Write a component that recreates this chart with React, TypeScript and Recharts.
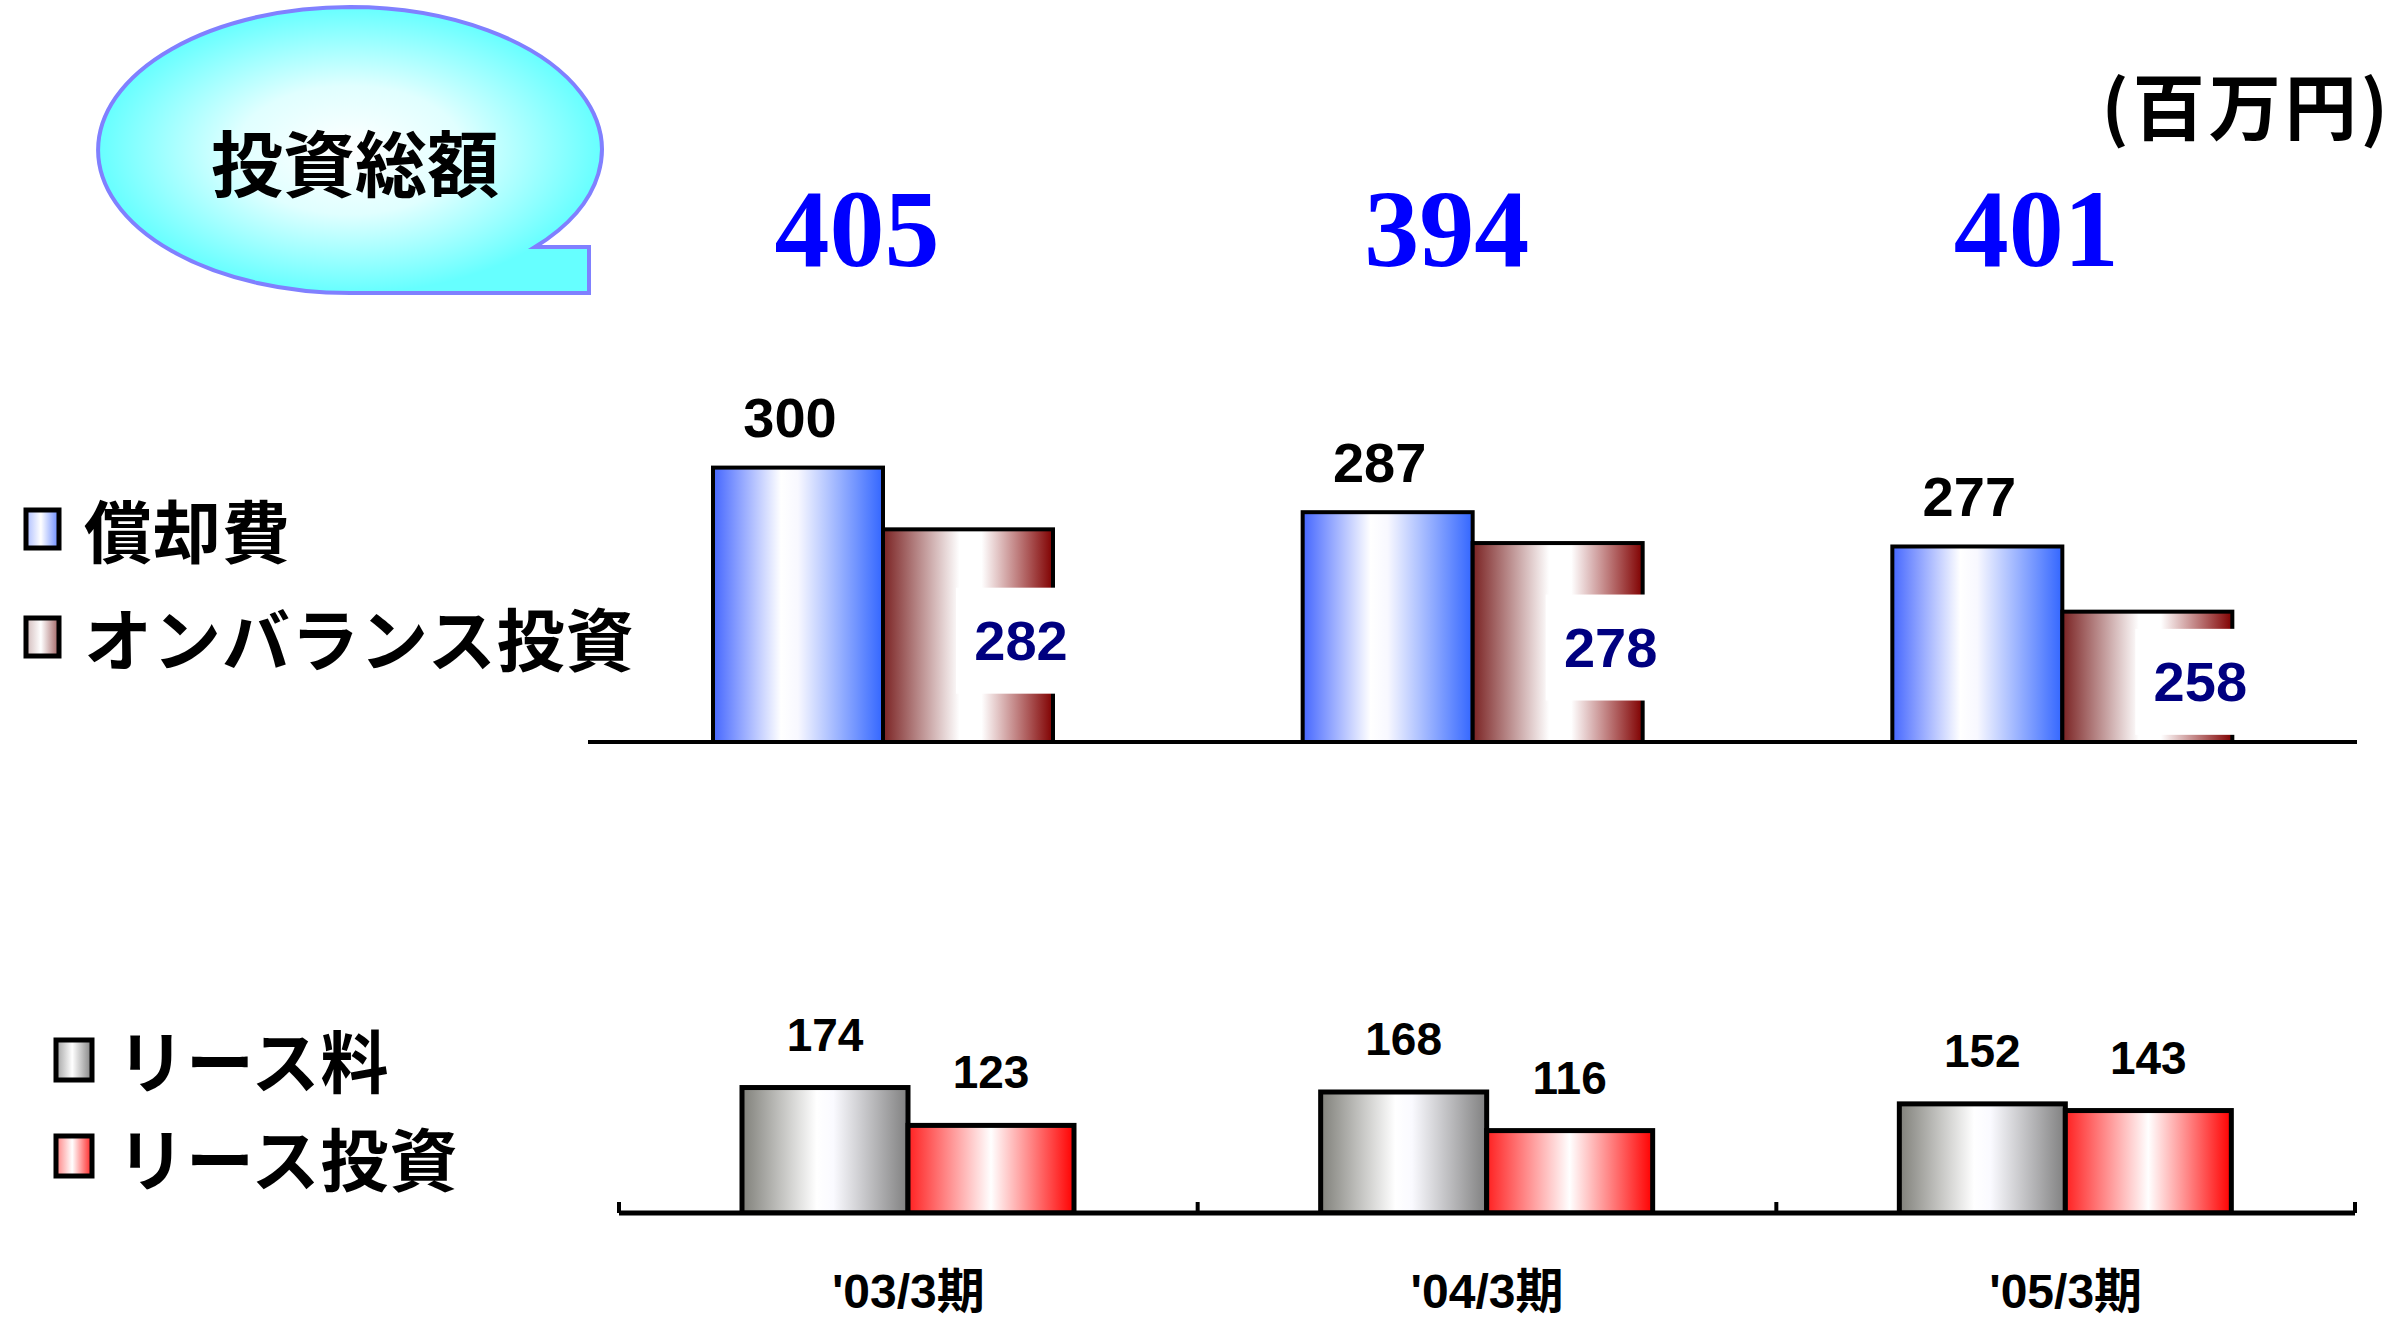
import React from 'react';
import { BarChart, Bar, XAxis, YAxis, LabelList, ReferenceLine } from 'recharts';

// ---- data ----
const PERIODS = ["'03/3期", "'04/3期", "'05/3期"];
const DEPRECIATION = [300, 287, 277]; // 償却費
const ON_BALANCE = [282, 278, 258]; // オンバランス投資
const TOTALS = [405, 394, 401]; // 投資総額
const LEASE_FEE = [174, 168, 152]; // リース料
const LEASE_INVEST = [123, 116, 143]; // リース投資

const LEGEND_TOP = ['償却費', 'オンバランス投資'];
const LEGEND_BOTTOM = ['リース料', 'リース投資'];
const TITLE = '投資総額';
const UNIT = '(百万円)';

const topData = PERIODS.map((p, i) => ({ period: p, dep: DEPRECIATION[i], onb: ON_BALANCE[i], total: TOTALS[i] }));
const bottomData = PERIODS.map((p, i) => ({ period: p, fee: LEASE_FEE[i], inv: LEASE_INVEST[i] }));

const NUM_FONT = "'Liberation Sans', Arial, sans-serif";
const CJK_FONT = "'Noto Sans CJK JP', 'Noto Sans CJK SC', sans-serif";

const makeShape = (grad: string, sw: number) => (props: any) => {
  const { x, y, width, height } = props;
  if (!height || height <= 0) return <g />;
  return (
    <rect x={x} y={y} width={width} height={height} fill={`url(#${grad})`} stroke="#000" strokeWidth={sw} />
  );
};

const blueShape = makeShape('gBlue', 4);
const brownShape = makeShape('gBrown', 4);
const greyShape = makeShape('gGrey', 5);
const redShape = makeShape('gRed', 5);

const getBox = (props: any) => {
  const vb = props.viewBox || {};
  const x = props.x ?? vb.x;
  const y = props.y ?? vb.y;
  const width = props.width ?? vb.width;
  const height = props.height ?? vb.height;
  return { x: Number(x), y: Number(y), width: Number(width), height: Number(height) };
};

const TopValueLabel = (props: any) => {
  const { x, y, width } = getBox(props);
  return (
    <text x={x + width / 2 - 8} y={y - 50} textAnchor="middle" dominantBaseline="central"
      fontFamily={NUM_FONT} fontWeight="bold" fontSize={56} fill="#000">
      {props.value}
    </text>
  );
};

const TotalLabel = (props: any) => {
  const { x, width } = getBox(props);
  return (
    <text x={x + width - 26} y={229} textAnchor="middle" dominantBaseline="central"
      fontFamily="'Liberation Serif', 'Times New Roman', serif" fontWeight="bold" fontSize={110} fill="#0000FF">
      {props.value}
    </text>
  );
};

const InsideLabel = (props: any) => {
  const { x, y, width, height } = getBox(props);
  const cx = x + width / 2 + 53;
  const cy = y + height / 2 + 5;
  return (
    <g>
      <rect x={cx - 65} y={cy - 53} width={140} height={106} fill="#fff" />
      <text x={cx} y={cy} textAnchor="middle" dominantBaseline="central"
        fontFamily={NUM_FONT} fontWeight="bold" fontSize={56} fill="#000080">
        {props.value}
      </text>
    </g>
  );
};

const SmallLabel = (props: any) => {
  const { x, y, width } = getBox(props);
  return (
    <text x={x + width / 2} y={y - 53} textAnchor="middle" dominantBaseline="central"
      fontFamily={NUM_FONT} fontWeight="bold" fontSize={46} fill="#000">
      {props.value}
    </text>
  );
};

const BOTTOM_LEFT = 619;
const BOTTOM_RIGHT_MARGIN = 52;
const BOTTOM_BAND = (2407 - BOTTOM_LEFT - BOTTOM_RIGHT_MARGIN) / PERIODS.length;

const PeriodTick = (props: any) => {
  const { x, y, payload, index } = props;
  const half = BOTTOM_BAND / 2;
  const last = index === PERIODS.length - 1;
  return (
    <g>
      <line x1={x - half} x2={x - half} y1={y} y2={y - 11} stroke="#000" strokeWidth={4} />
      {last && <line x1={x + half} x2={x + half} y1={y} y2={y - 11} stroke="#000" strokeWidth={4} />}
      <text x={x} y={y + 78} textAnchor="middle" dominantBaseline="central"
        fontFamily={`${NUM_FONT}, ${CJK_FONT}`} fontWeight="bold" fontSize={48} fill="#000">
        {payload.value}
      </text>
    </g>
  );
};

const Swatch = ({ x, y, w, h, grad }: any) => (
  <rect x={x} y={y} width={w} height={h} fill={`url(#${grad})`} stroke="#000" strokeWidth={5} />
);

export default function App() {
  return (
    <div style={{ position: 'absolute', left: 0, top: 0, width: 2407, height: 1319, background: '#fff', overflow: 'hidden' }}>
      <svg width={0} height={0} style={{ position: 'absolute' }}>
        <defs>
          <linearGradient id="gBlue" x1="0" y1="0" x2="1" y2="0">
            <stop offset="0" stopColor="#4466FF" />
            <stop offset="0.4" stopColor="#FFFFFF" />
            <stop offset="0.5" stopColor="#F8F8FF" />
            <stop offset="1" stopColor="#3366FF" />
          </linearGradient>
          <linearGradient id="gBrown" x1="0" y1="0" x2="1" y2="0">
            <stop offset="0" stopColor="#7A2222" />
            <stop offset="0.45" stopColor="#FFFFFF" />
            <stop offset="0.58" stopColor="#FFFFFF" />
            <stop offset="1" stopColor="#800000" />
          </linearGradient>
          <linearGradient id="gGrey" x1="0" y1="0" x2="1" y2="0">
            <stop offset="0" stopColor="#80807A" />
            <stop offset="0.45" stopColor="#FFFFFF" />
            <stop offset="0.55" stopColor="#FAFAFF" />
            <stop offset="1" stopColor="#808080" />
          </linearGradient>
          <linearGradient id="gRed" x1="0" y1="0" x2="1" y2="0">
            <stop offset="0" stopColor="#FF2020" />
            <stop offset="0.5" stopColor="#FFFFFF" />
            <stop offset="1" stopColor="#FF0000" />
          </linearGradient>
          <linearGradient id="sBlue" x1="0" y1="0" x2="1" y2="0">
            <stop offset="0" stopColor="#AABBFF" />
            <stop offset="0.45" stopColor="#FFFFFF" />
            <stop offset="1" stopColor="#6688FF" />
          </linearGradient>
          <linearGradient id="sBrown" x1="0" y1="0" x2="1" y2="0">
            <stop offset="0" stopColor="#D0B8B8" />
            <stop offset="0.45" stopColor="#FFFFFF" />
            <stop offset="1" stopColor="#A06060" />
          </linearGradient>
          <linearGradient id="sGrey" x1="0" y1="0" x2="1" y2="0">
            <stop offset="0" stopColor="#A0A0A0" />
            <stop offset="0.45" stopColor="#FFFFFF" />
            <stop offset="1" stopColor="#808080" />
          </linearGradient>
          <linearGradient id="sRed" x1="0" y1="0" x2="1" y2="0">
            <stop offset="0" stopColor="#FF8080" />
            <stop offset="0.45" stopColor="#FFFFFF" />
            <stop offset="1" stopColor="#FF2020" />
          </linearGradient>
          <radialGradient id="gBubble" cx="0.5" cy="0.5" r="0.5">
            <stop offset="0" stopColor="#FFFFFF" />
            <stop offset="0.45" stopColor="#E0FFFF" />
            <stop offset="1" stopColor="#66FFFF" />
          </radialGradient>
        </defs>
      </svg>

      {/* top chart */}
      <div style={{ position: 'absolute', left: 0, top: 0 }}>
        <BarChart width={2407} height={800} data={topData}
          margin={{ top: 399, right: 50, bottom: 58, left: 588 }} barGap={0} barSize={170}>
          <XAxis dataKey="period" hide />
          <YAxis hide domain={[220, 320]} allowDataOverflow />
          <Bar dataKey="dep" isAnimationActive={false} shape={blueShape}>
            <LabelList dataKey="dep" content={TopValueLabel} />
            <LabelList dataKey="total" content={TotalLabel} />
          </Bar>
          <Bar dataKey="onb" isAnimationActive={false} shape={brownShape}>
            <LabelList dataKey="onb" content={InsideLabel} />
          </Bar>
          <ReferenceLine y={220} stroke="#000" strokeWidth={4} />
        </BarChart>
      </div>

      {/* bottom chart */}
      <div style={{ position: 'absolute', left: 0, top: 0 }}>
        <BarChart width={2407} height={1319} data={bottomData}
          margin={{ top: 994, right: BOTTOM_RIGHT_MARGIN, bottom: 46, left: BOTTOM_LEFT }} barGap={0} barSize={166}>
          <XAxis dataKey="period" height={60} interval={0} tickSize={0} tickMargin={0}
            axisLine={{ stroke: '#000', strokeWidth: 5 }} tickLine={false} tick={<PeriodTick />} />
          <YAxis hide domain={[5, 300]} allowDataOverflow />
          <Bar dataKey="fee" isAnimationActive={false} shape={greyShape}>
            <LabelList dataKey="fee" content={SmallLabel} />
          </Bar>
          <Bar dataKey="inv" isAnimationActive={false} shape={redShape}>
            <LabelList dataKey="inv" content={SmallLabel} />
          </Bar>
        </BarChart>
      </div>

      {/* decorations: bubble, legends, unit */}
      <svg width={2407} height={1319} style={{ position: 'absolute', left: 0, top: 0, pointerEvents: 'none' }}>
        <path d="M 350 7 A 252 143 0 0 1 535 247 L 589 247 L 589 293 L 350 293 A 252 143 0 0 1 350 7 Z"
          fill="url(#gBubble)" stroke="#8080FF" strokeWidth={4} />
        <text x={355} y={159} textAnchor="middle" dominantBaseline="central"
          fontFamily={CJK_FONT} fontWeight="bold" fontSize={72} fill="#000">{TITLE}</text>

        <text x={2392} y={102} textAnchor="end" dominantBaseline="central"
          fontFamily={CJK_FONT} fontWeight="bold" fontSize={72} letterSpacing={4} fill="#000">{UNIT}</text>

        <Swatch x={26} y={510} w={33} h={38} grad="sBlue" />
        <text x={84} y={528} dominantBaseline="central" fontFamily={CJK_FONT} fontWeight="bold" fontSize={68} letterSpacing={1} fill="#000">{LEGEND_TOP[0]}</text>
        <Swatch x={26} y={618} w={33} h={38} grad="sBrown" />
        <text x={84} y={636} dominantBaseline="central" fontFamily={CJK_FONT} fontWeight="bold" fontSize={68} letterSpacing={1} fill="#000">{LEGEND_TOP[1]}</text>

        <Swatch x={56} y={1040} w={36} h={40} grad="sGrey" />
        <text x={117} y={1058} dominantBaseline="central" fontFamily={CJK_FONT} fontWeight="bold" fontSize={68} letterSpacing={1} fill="#000">{LEGEND_BOTTOM[0]}</text>
        <Swatch x={56} y={1136} w={36} h={40} grad="sRed" />
        <text x={117} y={1156} dominantBaseline="central" fontFamily={CJK_FONT} fontWeight="bold" fontSize={68} letterSpacing={1} fill="#000">{LEGEND_BOTTOM[1]}</text>
      </svg>
    </div>
  );
}
